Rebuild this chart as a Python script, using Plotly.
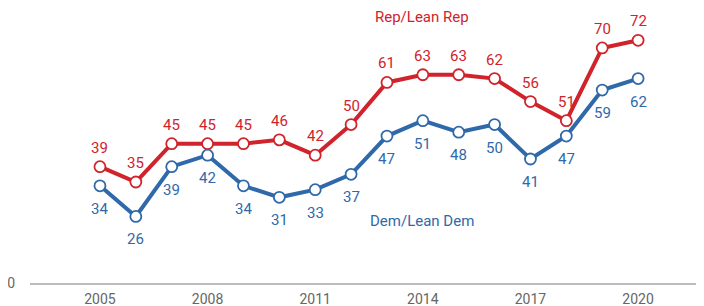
import plotly.graph_objects as go

years = list(range(2005, 2021))
rep = [39, 35, 45, 45, 45, 46, 42, 50, 61, 63, 63, 62, 56, 51, 70, 72]
dem = [34, 26, 39, 42, 34, 31, 33, 37, 47, 51, 48, 50, 41, 47, 59, 62]
xticks = [2005, 2008, 2011, 2014, 2017, 2020]

RED = "#d0232b"
BLUE = "#2f69a9"
BASE = 8.63
FONT = "Liberation Sans Narrow, Roboto, sans-serif"

fig = go.Figure()
for vals, col, shift in [(rep, RED, 19), (dem, BLUE, -23)]:
    fig.add_trace(go.Scatter(
        x=years, y=vals, mode="lines+markers",
        line=dict(color=col, width=4),
        marker=dict(size=11, color="white", line=dict(color=col, width=1.8)),
        cliponaxis=False, showlegend=False, hoverinfo="skip",
    ))
    for yr, v in zip(years, vals):
        fig.add_annotation(x=yr, y=v, text=str(v), showarrow=False, yshift=shift,
                           font=dict(color=col, size=15, family=FONT))

fig.add_annotation(x=2013.98, y=78.1, text="Rep/Lean Rep", showarrow=False,
                   font=dict(color=RED, size=15, family=FONT))
fig.add_annotation(x=2013.98, y=24.8, text="Dem/Lean Dem", showarrow=False,
                   font=dict(color=BLUE, size=15, family=FONT))

fig.update_layout(
    width=704, height=306,
    margin=dict(l=22, r=0, t=0, b=31),
    plot_bgcolor="white", paper_bgcolor="white",
    xaxis=dict(range=[2003.05, 2022.06], tickvals=xticks,
               ticktext=[str(t) for t in xticks],
               showgrid=False, zeroline=False, showline=True, automargin=False,
               linecolor="#bdbdbd", linewidth=2, ticks="", ticklabelstandoff=2,
               tickfont=dict(color="#666666", size=14, family=FONT)),
    yaxis=dict(range=[BASE, 80.43], tickvals=[BASE], ticktext=["0"],
               showgrid=False, zeroline=False, showline=False, ticks="",
               automargin=False, ticklabelstandoff=14,
               tickfont=dict(color="#666666", size=14, family=FONT)),
)
fig.write_html("out.html")
